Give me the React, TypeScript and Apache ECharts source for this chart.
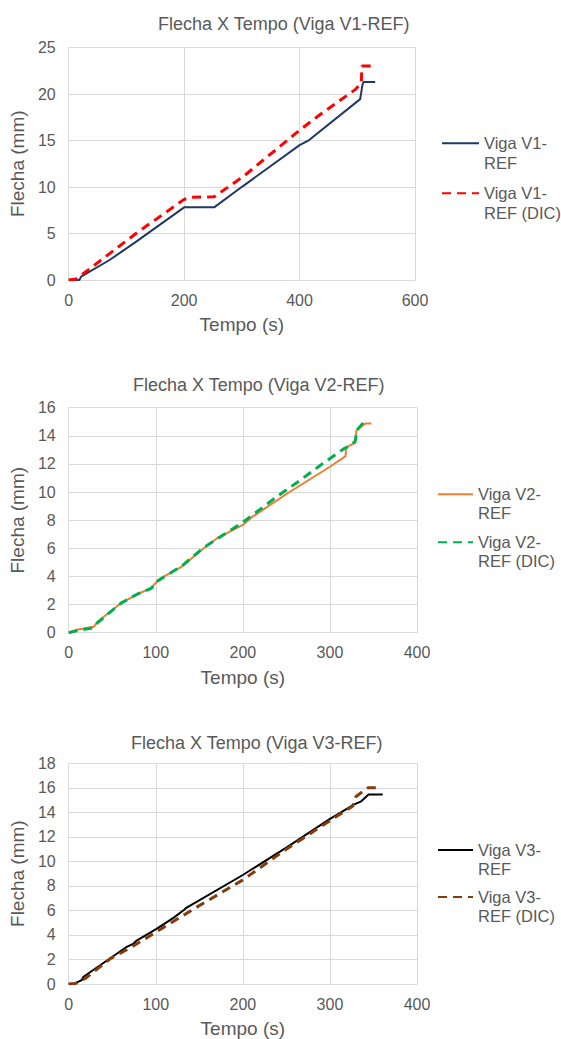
import React, { useEffect, useRef } from "react";
import * as echarts from "echarts";

const FONT = "'Liberation Sans', Arial, sans-serif";
const TEXT = "#595959";
const GRIDLINE = "#D9D9D9";

// Chart titles
const titles = [
  "Flecha X Tempo (Viga V1-REF)",
  "Flecha X Tempo (Viga V2-REF)",
  "Flecha X Tempo (Viga V3-REF)",
];
const xName = "Tempo (s)";
const yName = "Flecha (mm)";

// Axis ranges [min, max, interval]
const xRanges: [number, number, number][] = [
  [0, 600, 200],
  [0, 400, 100],
  [0, 400, 100],
];
const yRanges: [number, number, number][] = [
  [0, 25, 5],
  [0, 16, 2],
  [0, 18, 2],
];

// Series names
const names = [
  ["Viga V1-REF", "Viga V1-REF (DIC)"],
  ["Viga V2-REF", "Viga V2-REF (DIC)"],
  ["Viga V3-REF", "Viga V3-REF (DIC)"],
];

// Data [tempo (s), flecha (mm)]
const v1Ref: [number, number][] = [
  [0, 0], [18.5, 0], [21.5, 0.36], [70.8, 2.15], [117, 4.12], [200, 7.81],
  [252, 7.81], [302, 10.1], [400, 14.5], [416.6, 15.05], [505, 19.45],
  [509, 21.0], [511, 21.3], [531, 21.3],
];
const v1RefDic: [number, number][] = [
  [0, 0], [13, 0.1], [117, 5.02], [200, 8.67], [212, 8.9], [252, 8.95],
  [302, 11.1], [400, 16.1], [427, 17.4], [497, 20.5], [507, 21.2],
  [508, 23.0], [533, 23.0],
];
const v2Ref: [number, number][] = [
  [0, 0], [9, 0.21], [29, 0.43], [33, 0.78], [60, 2.1], [78, 2.7], [95, 3.2],
  [100, 3.55], [105, 3.85], [130, 4.7], [155, 6.0], [170, 6.7], [200, 7.66],
  [210, 8.2], [251, 9.9], [300, 11.8], [318, 12.56], [318.5, 13.18],
  [329, 13.5], [330.5, 14.4], [340.7, 14.88], [347.5, 14.88],
];
const v2RefDic: [number, number][] = [
  [0, 0], [10, 0.15], [28, 0.35], [33, 0.7], [60, 2.1], [78, 2.72],
  [95, 3.15], [100, 3.6], [130, 4.75], [155, 6.05], [200, 7.85],
  [239, 9.67], [263.5, 10.74], [292, 12.04], [316.5, 13.1], [320, 13.2],
  [329, 13.6], [331, 14.4], [342.6, 15.25],
];
const v3Ref: [number, number][] = [
  [0, 0], [7, 0.05], [15, 0.32], [17, 0.59], [66, 3.0], [74, 3.27],
  [78, 3.54], [100.4, 4.47], [120.7, 5.41], [133, 6.08], [135, 6.21],
  [200, 8.89], [250.8, 11.17], [299.6, 13.45], [328, 14.65], [336, 14.9],
  [344.3, 15.45], [360.6, 15.45],
];
const v3RefDic: [number, number][] = [
  [0, 0], [8, 0.05], [19, 0.45], [47.6, 2.06], [72, 3.0], [108.5, 4.6],
  [149, 6.35], [200, 8.49], [250.8, 11.04], [299.6, 13.3], [326, 14.5],
  [330, 15.3], [344, 16.0], [354.5, 16.0],
];

const seriesData = [
  [v1Ref, v1RefDic],
  [v2Ref, v2RefDic],
  [v3Ref, v3RefDic],
];
const colors = [
  ["#1F3864", "#FF0000"],
  ["#ED7D31", "#00B050"],
  ["#000000", "#843C0C"],
];

// Layout
const grids = [
  { left: 66, top: 47.5, width: 349, height: 232.5 },
  { left: 66, top: 407.7, width: 351, height: 225 },
  { left: 66, top: 763.3, width: 351, height: 224.3 },
];
const titlePos = [
  { left: 158, top: 14.5 },
  { left: 133, top: 376 },
  { left: 131, top: 733.5 },
];
const legendPos = [
  { left: 441, top: 113.3, iw: 37, lh: 20, gap: -10 },
  { left: 437, top: 465.8, iw: 35, lh: 19, gap: -9 },
  { left: 437, top: 821.5, iw: 35, lh: 19, gap: -10 },
];

function buildOption() {
  const title = titles.map((t, i) => ({
    text: t,
    left: titlePos[i].left,
    top: titlePos[i].top,
    padding: 0,
    textStyle: { color: TEXT, fontSize: 18, fontWeight: "normal", fontFamily: FONT },
  }));
  const grid = grids.map((g) => ({ ...g, containLabel: false }));
  const xAxis = xRanges.map((r, i) => ({
    gridIndex: i,
    type: "value",
    min: r[0],
    max: r[1],
    interval: r[2],
    axisLine: { show: true, lineStyle: { color: GRIDLINE, width: 1 } },
    axisTick: { show: false },
    splitLine: { show: true, lineStyle: { color: GRIDLINE, width: 1 } },
    axisLabel: { color: TEXT, fontSize: 16, fontFamily: FONT, margin: 12 },
    name: xName,
    nameLocation: "middle",
    nameGap: 35,
    nameTextStyle: { color: TEXT, fontSize: 19, fontFamily: FONT },
  }));
  const yAxis = yRanges.map((r, i) => ({
    gridIndex: i,
    type: "value",
    min: r[0],
    max: r[1],
    interval: r[2],
    axisLine: { show: false },
    axisTick: { show: false },
    splitLine: { show: true, lineStyle: { color: GRIDLINE, width: 1 } },
    axisLabel: { color: TEXT, fontSize: 16, fontFamily: FONT, margin: 13 },
    name: yName,
    nameLocation: "middle",
    nameGap: 38,
    nameRotate: 90,
    nameTextStyle: { color: TEXT, fontSize: 19, fontFamily: FONT },
  }));
  const series: any[] = [];
  seriesData.forEach((pair, i) => {
    pair.forEach((data, j) => {
      series.push({
        type: "line",
        name: names[i][j],
        xAxisIndex: i,
        yAxisIndex: i,
        data,
        symbol: "none",
        showSymbol: false,
        z: 2 + j,
        lineStyle: {
          color: colors[i][j],
          width: j === 0 ? 2 : 3,
          type: j === 0 ? "solid" : [9, 6],
          cap: "butt",
        },
        itemStyle: { color: colors[i][j] },
      });
    });
  });
  const legend = legendPos.map((p, i) => ({
    orient: "vertical",
    left: p.left,
    top: p.top,
    padding: 0,
    itemGap: p.gap,
    itemWidth: p.iw,
    itemHeight: 14,
    data: names[i],
    itemStyle: { opacity: 0 },
    formatter: (n: string) => "\n" + n.replace("-REF", "-\nREF"),
    textStyle: {
      color: TEXT,
      fontSize: 16.5,
      fontFamily: FONT,
      lineHeight: p.lh,
    },
  }));
  return {
    animation: false,
    backgroundColor: "#FFFFFF",
    title,
    grid,
    xAxis,
    yAxis,
    legend,
    series,
  };
}

export default function App() {
  const ref = useRef<HTMLDivElement>(null);
  useEffect(() => {
    document.body.style.margin = "0";
    const chart = echarts.init(ref.current!, null, { renderer: "svg" });
    chart.setOption(buildOption() as any);
    return () => chart.dispose();
  }, []);
  return <div ref={ref} style={{ width: 561, height: 1039 }} />;
}
